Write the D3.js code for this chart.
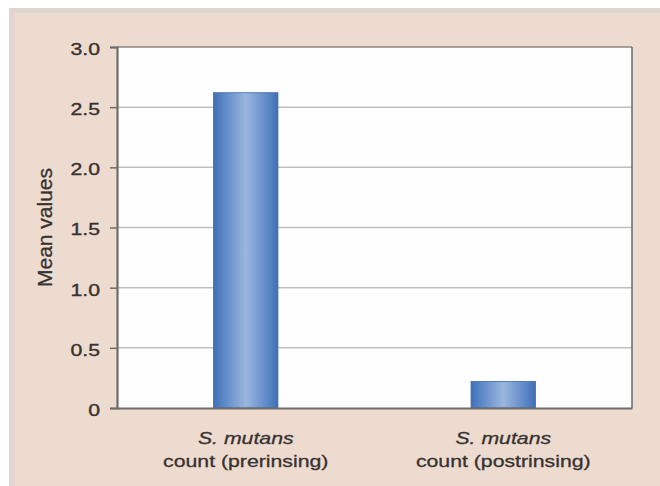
<!DOCTYPE html>
<html>
<head>
<meta charset="utf-8">
<script src="https://cdn.jsdelivr.net/npm/d3@7"></script>
<style>
  html, body { margin: 0; padding: 0; background: #ffffff; }
  svg { display: block; }
</style>
</head>
<body>
<svg id="chart" width="660" height="486"></svg>
<script>
// S. mutans mean counts before and after rinsing
const categories = ["prerinsing", "postrinsing"];
const categoryLines = [["S. mutans", "count (prerinsing)"], ["S. mutans", "count (postrinsing)"]];
const meanValues = [2.62, 0.22];
const yTicks = [0, 0.5, 1.0, 1.5, 2.0, 2.5, 3.0];
const yTickLabels = ["0", "0.5", "1.0", "1.5", "2.0", "2.5", "3.0"];
const yTitle = "Mean values";

const svg = d3.select("#chart");
const W = 660, H = 486;
const plot = { left: 117, top: 47, right: 632, bottom: 408 };
const FONT = "Liberation Sans, Arial, sans-serif";
const TEXT_FILL = "#363230";
const WIDEN = 1.25; // horizontal stretch of the lettering

// Panel background
svg.append("rect").attr("x", 0).attr("y", 0).attr("width", W).attr("height", H).attr("fill", "#ffffff");
svg.append("rect").attr("x", 9).attr("y", 8).attr("width", W - 9).attr("height", H - 8).attr("fill", "#eedbd0");
svg.append("rect").attr("x", 9).attr("y", 8).attr("width", W - 9).attr("height", 5).attr("fill", "#ddd6cd");
svg.append("rect").attr("x", 9).attr("y", 8).attr("width", 6).attr("height", H - 8).attr("fill", "#e3d5cd");

const defs = svg.append("defs");
const grad = defs.append("linearGradient").attr("id", "barGrad")
  .attr("x1", "0%").attr("x2", "100%").attr("y1", "0%").attr("y2", "0%");
grad.append("stop").attr("offset", "0%").attr("stop-color", "#3f6fb5");
grad.append("stop").attr("offset", "15%").attr("stop-color", "#5a86c6");
grad.append("stop").attr("offset", "50%").attr("stop-color", "#9ab7de");
grad.append("stop").attr("offset", "85%").attr("stop-color", "#5a86c6");
grad.append("stop").attr("offset", "100%").attr("stop-color", "#3f6fb5");

const x = d3.scaleBand()
  .domain(categories)
  .range([plot.left, plot.right])
  .paddingInner(0.75)
  .paddingOuter(0.375);

const y = d3.scaleLinear().domain([0, 3]).range([plot.bottom, plot.top]);

// Plot area
svg.append("rect")
  .attr("x", plot.left).attr("y", plot.top)
  .attr("width", plot.right - plot.left).attr("height", plot.bottom - plot.top)
  .attr("fill", "#fefefe");

// Gridlines
svg.append("g")
  .selectAll("line")
  .data(yTicks.filter(t => t > 0 && t < 3))
  .join("line")
  .attr("x1", plot.left).attr("x2", plot.right)
  .attr("y1", d => y(d)).attr("y2", d => y(d))
  .attr("stroke", "#c0bfbf").attr("stroke-width", 1.5);

// Bars
svg.append("g")
  .selectAll("rect")
  .data(meanValues)
  .join("rect")
  .attr("x", (d, i) => x(categories[i]))
  .attr("y", d => y(d))
  .attr("width", x.bandwidth())
  .attr("height", d => y(0) - y(d))
  .attr("fill", "url(#barGrad)")
  .attr("stroke", "#3b6aae")
  .attr("stroke-width", 0.8);

// Frame: top and right borders
svg.append("line").attr("x1", plot.left).attr("x2", plot.right).attr("y1", plot.top).attr("y2", plot.top)
  .attr("stroke", "#8a8582").attr("stroke-width", 1.5);
svg.append("line").attr("x1", plot.right).attr("x2", plot.right).attr("y1", plot.top).attr("y2", plot.bottom)
  .attr("stroke", "#6d6966").attr("stroke-width", 1.5);

// Y axis
const yAxis = d3.axisLeft(y)
  .tickValues(yTicks)
  .tickFormat((d, i) => yTickLabels[i])
  .tickSize(7)
  .tickPadding(10);
const gy = svg.append("g").attr("transform", `translate(${plot.left},0)`).call(yAxis);
gy.select(".domain").attr("stroke", "#6f6b68").attr("stroke-width", 2.2);
gy.selectAll(".tick line").attr("stroke", "#6f6b68").attr("stroke-width", 1.5);
gy.selectAll(".tick text").each(function () {
  const t = d3.select(this);
  const tx = +t.attr("x");
  t.attr("x", 0)
    .attr("transform", `translate(${tx},2) scale(${WIDEN},1)`)
    .attr("font-family", FONT)
    .attr("font-size", 17)
    .attr("fill", TEXT_FILL)
    .attr("stroke", TEXT_FILL).attr("stroke-width", 0.35);
});

// X axis baseline
const xAxis = d3.axisBottom(x).tickSize(0).tickFormat("");
const gx = svg.append("g").attr("transform", `translate(0,${plot.bottom})`).call(xAxis);
gx.select(".domain").attr("stroke", "#6f6b68").attr("stroke-width", 2);

// Category labels (two lines each, species name in italics)
const labels = svg.append("g")
  .selectAll("g")
  .data(categories)
  .join("g")
  .attr("transform", d => `translate(${x(d) + x.bandwidth() / 2},0) scale(${WIDEN},1)`);
labels.append("text")
  .attr("y", 444)
  .attr("text-anchor", "middle")
  .attr("font-family", FONT).attr("font-size", 17).attr("font-style", "italic")
  .attr("fill", TEXT_FILL).attr("stroke", TEXT_FILL).attr("stroke-width", 0.3)
  .text((d, i) => categoryLines[i][0]);
labels.append("text")
  .attr("y", 467)
  .attr("text-anchor", "middle")
  .attr("font-family", FONT).attr("font-size", 17)
  .attr("fill", TEXT_FILL).attr("stroke", TEXT_FILL).attr("stroke-width", 0.3)
  .text((d, i) => categoryLines[i][1]);

// Y axis title
svg.append("text")
  .attr("transform", `translate(52,${(plot.top + plot.bottom) / 2}) rotate(-90)`)
  .attr("text-anchor", "middle")
  .attr("font-family", FONT)
  .attr("font-size", 21).attr("fill", TEXT_FILL)
  .attr("stroke", TEXT_FILL).attr("stroke-width", 0.3)
  .text(yTitle);
</script>
</body>
</html>
